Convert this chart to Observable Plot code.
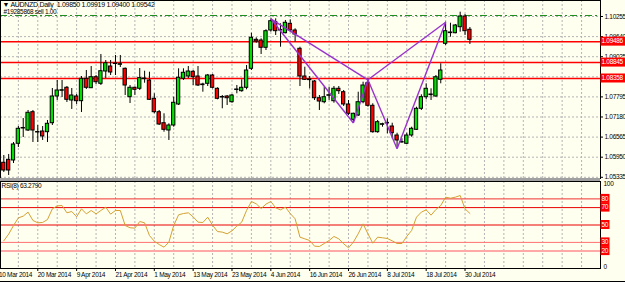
<!DOCTYPE html>
<html><head><meta charset="utf-8">
<script src="https://cdn.jsdelivr.net/npm/d3@7"></script>
<script src="https://cdn.jsdelivr.net/npm/@observablehq/plot@0.6"></script>
<style>
html,body{margin:0;padding:0;background:#FFFFF0;}
#wrap{position:relative;width:625px;height:282px;overflow:hidden;background:#FFFFF0;}
#main{position:absolute;left:0;top:0;}
#rsi{position:absolute;left:0;top:178px;}
#sep{position:absolute;left:0;top:178px;width:600px;height:3px;background:#A0A0A0;z-index:2;}
#bottom{position:absolute;left:0;top:281px;width:625px;height:1px;background:#000;}
</style></head><body>
<div id="wrap"><div id="main"></div><div id="rsi"></div><div id="sep"></div><div id="bottom"></div></div>
<script>
const symbol = "AUDNZD,Daily";
const orderText = "#19285868 sell 1.00";
const opens = [1.05779,1.05870,1.05849,1.06360,1.06844,1.06767,1.07327,1.06721,1.06736,1.06715,
1.06990,1.07807,1.07982,1.08074,1.07685,1.07807,1.07664,1.08349,1.08061,1.08398,
1.08196,1.08572,1.08725,1.08802,1.08777,1.08655,1.07786,1.08074,1.08043,1.08340,
1.08297,1.07737,1.07327,1.06990,1.06767,1.06920,1.07563,1.08349,1.08419,1.08563,
1.08419,1.08175,1.08196,1.08450,1.08043,1.07792,1.07807,1.07633,1.08006,1.07970,
1.08074,1.08655,1.09542,1.09521,1.09298,1.09827,1.10081,1.09842,1.09744,1.10032,
1.09827,1.09267,1.08419,1.08328,1.08266,1.07755,1.07633,1.07829,1.07664,1.08043,
1.07939,1.07563,1.07094,1.07226,1.07633,1.08214,1.07523,1.06715,1.06941,1.06984,
1.06889,1.06614,1.06415,1.06360,1.06614,1.06788,1.07431,1.07786,1.07869,1.07807,
1.08318,1.09420,1.09766,1.09744,1.09928,1.10255,1.09850];
const highs = [1.06002,1.06033,1.06400,1.06889,1.07134,1.07379,1.07379,1.06920,1.06889,1.07073,
1.08052,1.08297,1.08297,1.08113,1.08052,1.07869,1.08419,1.08603,1.08725,1.08450,
1.09093,1.08909,1.08909,1.09062,1.09062,1.08680,1.08144,1.08098,1.08664,1.08581,
1.08551,1.07890,1.07379,1.07278,1.06972,1.07786,1.08655,1.08655,1.08725,1.08603,
1.08725,1.08214,1.08481,1.08481,1.08074,1.07838,1.07838,1.07869,1.08144,1.08318,
1.08756,1.09744,1.09604,1.09573,1.09849,1.10185,1.10185,1.10032,1.10133,1.10154,
1.09879,1.09316,1.08704,1.08419,1.08297,1.07838,1.08092,1.08092,1.08113,1.08113,
1.07991,1.07685,1.07297,1.07939,1.08245,1.08318,1.07584,1.07073,1.06990,1.07125,
1.06990,1.06684,1.06513,1.06684,1.06868,1.07480,1.07859,1.08196,1.08043,1.08450,
1.08808,1.10081,1.10050,1.10011,1.10387,1.10317,1.09919];
const lows = [1.05482,1.05390,1.05757,1.06247,1.06553,1.06736,1.06400,1.06400,1.06461,1.06400,
1.06920,1.07685,1.07777,1.07624,1.07410,1.07563,1.07318,1.08022,1.08052,1.08175,
1.08144,1.08358,1.08450,1.08450,1.08695,1.07838,1.07593,1.07838,1.07991,1.08214,
1.07685,1.07278,1.06920,1.06715,1.06461,1.06868,1.07532,1.08297,1.08358,1.08144,
1.08113,1.07939,1.08113,1.08043,1.07706,1.07431,1.07532,1.07602,1.07890,1.07939,
1.08012,1.08603,1.09438,1.09093,1.09215,1.09775,1.09674,1.09316,1.09726,1.09775,
1.09469,1.08113,1.08297,1.08043,1.07685,1.07379,1.07584,1.07685,1.07602,1.07869,
1.07501,1.07226,1.06995,1.07195,1.07584,1.07480,1.06684,1.06684,1.06868,1.06666,
1.06513,1.06210,1.06378,1.06339,1.06562,1.06767,1.07379,1.07706,1.07685,1.07786,
1.08196,1.09368,1.09622,1.09726,1.09775,1.09674,1.09400];
const closes = [1.05543,1.05543,1.06339,1.06819,1.06828,1.07309,1.06767,1.06706,1.06585,1.06972,
1.07807,1.07991,1.08000,1.07706,1.07838,1.07664,1.08349,1.08074,1.08398,1.08245,
1.08581,1.08826,1.08542,1.08817,1.08796,1.08144,1.08074,1.08012,1.08369,1.08358,
1.07706,1.07327,1.06951,1.06788,1.06920,1.07615,1.08380,1.08533,1.08572,1.08398,
1.08144,1.08156,1.08450,1.08074,1.07737,1.07777,1.07755,1.07838,1.08022,1.08074,
1.08603,1.09604,1.09490,1.09298,1.09806,1.10111,1.09806,1.09827,1.10063,1.09827,
1.09705,1.08419,1.08318,1.08309,1.07755,1.07654,1.07786,1.07847,1.08043,1.07970,
1.07563,1.07278,1.07278,1.07633,1.08144,1.07523,1.06715,1.07021,1.06960,1.06999,
1.06684,1.06461,1.06400,1.06614,1.06819,1.07431,1.07786,1.08043,1.07850,1.08398,
1.08603,1.09806,1.09747,1.09980,1.10255,1.09806,1.09542];
const rsiValues = [31.8,39.5,49.4,58.2,60.2,64.8,55.2,52.5,52.9,56.3,
68.6,72.0,72.4,64.0,65.5,59.4,68.6,62.8,66.7,62.8,
66.7,70.5,62.5,66.7,66.7,49.4,46.8,46.4,54.0,52.5,
37.9,31.4,27.6,24.5,30.3,49.4,61.7,63.2,64.0,59.4,
53.3,52.9,59.0,49.8,42.5,41.8,39.9,43.3,48.7,53.3,
66.7,77.0,74.3,69.0,74.0,77.0,69.7,67.4,70.5,63.2,
57.1,36.0,34.1,32.2,25.7,25.3,28.7,32.2,36.8,34.1,
28.4,23.8,30.3,39.9,51.3,39.9,29.1,36.0,35.3,34.5,
31.8,28.7,28.7,36.8,43.7,59.0,64.8,67.4,61.3,67.8,
72.4,82.0,80.8,82.0,83.9,68.6,63.279];
const rsiPeriod = 8;
const levelPrices = [1.09486, 1.08845, 1.08358];
const orderPrice = 1.10286;
const priceTicks = [1.10255,1.09640,1.09025,1.08410,1.07795,1.07180,1.06565,1.05950,1.05335];
const hiddenTickLabels = [1.08410];
const rsiLevels = [80, 70, 50, 30, 20];
const rsiLevelColors = ["#F03030", "#E80000", "#E80000", "#FF7070", "#FFA8A8"];
const rsiLevelWidths = [1, 1, 1, 1, 2];
const dateBars = [-1,7,15,23,31,39,47,55,63,71,79,87,95];
const dateLabels = ["10 Mar 2014","20 Mar 2014","9 Apr 2014","21 Apr 2014","1 May 2014","13 May 2014","23 May 2014","4 Jun 2014","16 Jun 2014","26 Jun 2014","8 Jul 2014","18 Jul 2014","30 Jul 2014"];
const patternNames = ["X","A","B","C","D"];
const patternBars = [55, 72, 75, 81, 91];
const patternPrices = [1.10185, 1.06995, 1.08318, 1.06210, 1.10081];
const patternEdges = [["X","A"],["A","B"],["X","B"],["B","C"],["C","D"],["B","D"]];

const xDomain = [-0.68, 122.9];
const gridBars = d3.range(-1, 123, 4);
const bull = "#00E000", bear = "#FF0000";
const bars = opens.map((o, i) => ({i, o, h: highs[i], l: lows[i], c: closes[i]}));
const pts = Object.fromEntries(patternNames.map((n, k) => [n, {x: patternBars[k], y: patternPrices[k]}]));
const segs = patternEdges.map(([a, b]) => ({x1: pts[a].x, y1: pts[a].y, x2: pts[b].x, y2: pts[b].y}));
const last = bars[bars.length - 1];
const title = `▼ ${symbol}  ${last.o.toFixed(5)} ${last.h.toFixed(5)} ${last.l.toFixed(5)} ${last.c.toFixed(5)}`;
const fontStyle = {fontFamily: "'Liberation Sans', Arial, sans-serif", fontSize: "6.5px", letterSpacing: "-0.3px",
  background: "transparent", color: "black", overflow: "visible"};
const grid = {stroke: "#B4B4B4", strokeOpacity: 1, strokeDasharray: "2,2"};

const main = Plot.plot({
  width: 625, height: 180,
  marginLeft: 0, marginRight: 25, marginTop: 0, marginBottom: 2,
  style: fontStyle,
  x: {domain: xDomain, axis: null},
  y: {domain: [1.05298, 1.10745]},
  marks: [
    Plot.gridX({ticks: gridBars, ...grid}),
    Plot.gridY({ticks: priceTicks, ...grid}),
    Plot.ruleY(levelPrices, {stroke: "#FF0000", strokeWidth: 1.5}),
    Plot.ruleY([orderPrice], {stroke: "#1E8C1E", strokeDasharray: "7,3,2,3"}),
    Plot.ruleX(bars, {x: "i", y1: "l", y2: "h", stroke: "black", strokeWidth: 1}),
    Plot.rect(bars, {x1: d => d.i - 0.34, x2: d => d.i + 0.34, y1: "o", y2: "c",
      fill: d => d.c >= d.o ? bull : bear, stroke: "black", strokeWidth: 1}),
    Plot.link(segs, {x1: "x1", y1: "y1", x2: "x2", y2: "y2", stroke: "#9932CC", strokeWidth: 1.4}),
    Plot.frame({stroke: "black"}),
    Plot.axisY({anchor: "right", ticks: priceTicks,
      tickFormat: d => hiddenTickLabels.includes(d) ? "" : d.toFixed(5), tickSize: 2, tickPadding: 2, label: null}),
    Plot.text([title], {frameAnchor: "top-left", dx: 2, dy: 2, text: d => d, fontSize: 7, letterSpacing: "-0.2px"}),
    Plot.text([orderText], {frameAnchor: "top-left", dx: 3, dy: 9, text: d => d})
  ]
});
document.getElementById("main").appendChild(main);

function addBoxes(svg, yScale, vals, fmt, x, w) {
  const g = d3.select(svg).append("g").attr("text-anchor", "start");
  vals.forEach(v => {
    const y = yScale.apply(v);
    g.append("rect").attr("x", x).attr("y", y - 4.5).attr("width", w).attr("height", 9).attr("fill", "#FF0000");
    g.append("text").attr("x", x + 1).attr("y", y).attr("dy", "0.35em").attr("fill", "white").text(fmt(v));
  });
}
addBoxes(main, main.scale("y"), levelPrices, d => d.toFixed(5), 600.5, 24.5);

const rsiData = rsiValues.map((v, i) => ({i, v}));
const levelData = rsiLevels.map((v, k) => ({v, c: rsiLevelColors[k], w: rsiLevelWidths[k]}));
const rsiPlot = Plot.plot({
  width: 625, height: 104,
  marginLeft: 0, marginRight: 25, marginTop: 3, marginBottom: 14,
  style: fontStyle,
  x: {domain: xDomain},
  y: {domain: [0, 100], axis: null},
  marks: [
    Plot.gridX({ticks: gridBars, ...grid}),
    Plot.ruleY(levelData, {y: "v", stroke: "c", strokeWidth: "w"}),
    Plot.line(rsiData, {x: "i", y: "v", stroke: "#D4A030", strokeWidth: 1}),
    Plot.frame({stroke: "black"}),
    Plot.axisX({ticks: dateBars, tickFormat: d => dateLabels[dateBars.indexOf(d)], textAnchor: "start",
      tickSize: 3, tickPadding: 1, label: null}),
    Plot.text([`RSI(${rsiPeriod}) ${rsiValues[rsiValues.length - 1].toFixed(4)}`], {frameAnchor: "top-left", dx: 1, dy: 2, text: d => d}),
    Plot.text([100], {y: d => d, frameAnchor: "right", dx: 3, textAnchor: "start", lineAnchor: "top", text: d => String(d)}),
    Plot.text([0], {y: d => d, frameAnchor: "right", dx: 3, textAnchor: "start", lineAnchor: "bottom", text: d => String(d)})
  ]
});
document.getElementById("rsi").appendChild(rsiPlot);
addBoxes(rsiPlot, rsiPlot.scale("y"), rsiLevels, d => String(d), 600.5, 9);
</script>
</body></html>
